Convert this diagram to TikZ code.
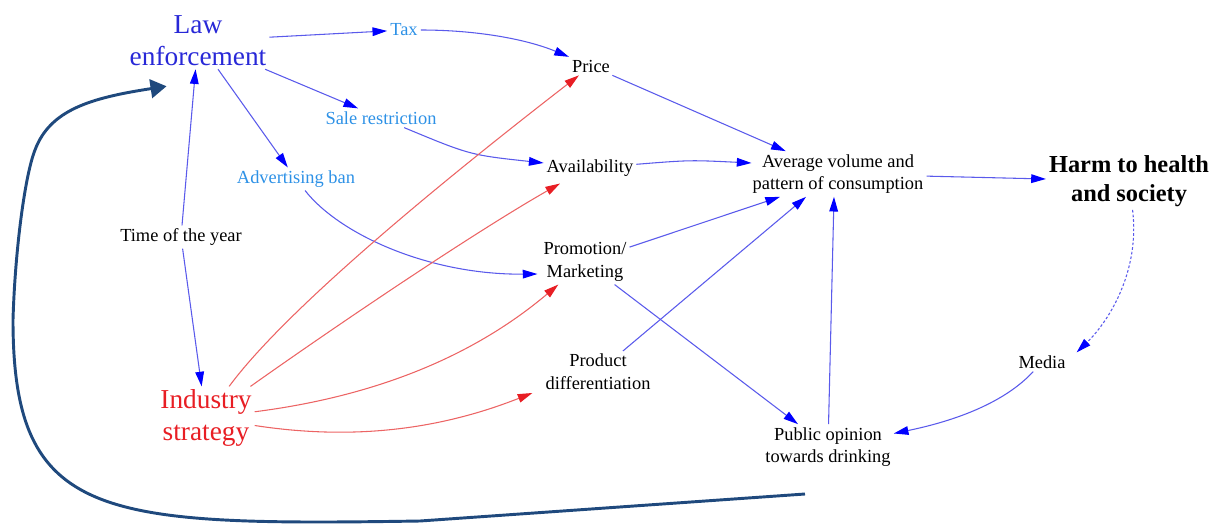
\documentclass[tikz,border=0pt]{standalone}
\usepackage{fontspec}
\setmainfont{Liberation Serif}
\usetikzlibrary{arrows.meta,calc}
\definecolor{lawblue}{RGB}{40,40,215}
\definecolor{toolblue}{RGB}{45,145,230}
\definecolor{linkblue}{RGB}{90,90,235}
\definecolor{headblue}{RGB}{0,0,255}
\definecolor{indred}{RGB}{232,30,36}
\definecolor{linkred}{RGB}{236,100,100}
\definecolor{loopblue}{RGB}{31,73,125}
\tikzset{every picture/.style={line width=0.75pt}}
\tikzset{
factor/.style={inner sep=2pt,align=center,font=\fontsize{13.8}{17}\selectfont},
bigfactor/.style={inner sep=2pt,align=center,font=\fontsize{20.5}{24}\selectfont},
blink/.style={draw=linkblue,line width=0.8pt,-{Triangle[length=11pt,width=6.5pt,color=headblue]}},
rlink/.style={draw=linkred,line width=0.8pt,-{Triangle[length=11pt,width=6.5pt,color=indred]}},
feedback/.style={draw=loopblue,line width=2.2pt,-{Triangle[length=12pt,width=14pt]}}
}

\begin{document}
\begin{tikzpicture}[x=0.75pt,y=0.75pt,yscale=-1,xscale=1]
\useasboundingbox (0,0) rectangle (1214,525);

% Text Node
\node [bigfactor,text=lawblue] (law) at (198,41) {Law\\enforcement};
% Text Node
\node [factor,text=toolblue] (tax) at (404,30) {Tax};
% Text Node
\node [factor] (price) at (591,66) {Price};
% Text Node
\node [factor,text=toolblue] (sale) at (381,118) {Sale restriction};
% Text Node
\node [factor,text=toolblue] (adv) at (296,179) {Advertising ban};
% Text Node
\node [factor] (avail) at (590,168) {Availability};
% Text Node
\node [factor] (avg) at (838,174) {Average volume and\\pattern of consumption};
% Text Node
\node [factor,font=\fontsize{18.3}{22}\selectfont\bfseries] (harm) at (1129,181) {Harm to health\\and society};
% Text Node
\node [factor] (time) at (181,237) {Time of the year};
% Text Node
\node [factor] (promo) at (585,262) {Promotion/\\Marketing};
% Text Node
\node [factor] (prod) at (598,372) {Product\\differentiation};
% Text Node
\node [bigfactor,text=indred] (ind) at (206,418) {Industry\\strategy};
% Text Node
\node [factor] (media) at (1042,362) {Media};
% Text Node
\node [factor] (pub) at (828,447) {Public opinion\\towards drinking};
\coordinate (loopstart) at (805,494);

%Straight Lines
\draw [blink] (law) -- (tax);
\draw [blink] (law) -- (sale);
\draw [blink] (law) -- (adv);
\draw [blink] (time) -- (law);
\draw [blink] (time) -- (ind);
\draw [blink] (price) -- (avg);
\draw [blink] (promo) -- ($(avg.south)+(-58,0)$);
\draw [blink] (prod) -- ($(avg.south)+(-32,0)$);
\draw [blink] (pub) -- ($(avg.south)+(-4,0)$);
\draw [blink] (avg) -- (harm);
\draw [blink] (promo) -- (pub);
%Curve Lines
\draw [blink] (tax) .. controls (476,30) and (526,39) .. (price);
\draw [blink] (sale) .. controls (470,155) .. (avail);
\draw [blink] (adv) .. controls (340,235) and (430,275) .. ($(promo.west)+(-3,12)$);
\draw [blink] (avail) .. controls (690,160) .. ($(avg.west)+(2,-11)$);
\draw [blink,dash pattern=on 2pt off 1.5pt] (harm) .. controls (1140,270) and (1110,320) .. ($(media.north east)+(8,0)$);
\draw [blink] (media) .. controls (1008,399) and (964,419) .. (pub);
%Curve Lines
\draw [rlink] (ind) .. controls (272,328) and (383,227) .. (price);
\draw [rlink] (ind) .. controls (330,330) and (470,235) .. ($(avail.south)+(-30,4)$);
\draw [rlink] (ind) .. controls (378,396) and (475,355) .. (promo);
\draw [rlink] (ind) .. controls (349,440) and (436,431) .. ($(prod.south west)+(-10,0)$);
%Curve Lines
\draw [feedback] (loopstart) -- (420,521) .. controls (100,526) and (13,520) .. (13,320) .. controls (15,250) and (25,175) .. (35,150) .. controls (50,110) and (90,98) .. ($(law.south west)+(40,17)$);

\end{tikzpicture}
\end{document}
